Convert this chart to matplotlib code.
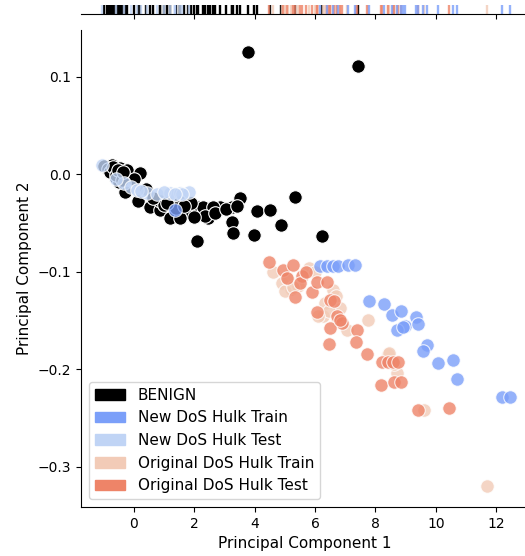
import matplotlib
matplotlib.use("Agg")
import matplotlib.pyplot as plt
import matplotlib.patches as mpatches
import numpy as np

# PCA projections per class (PC1, PC2)
benign_x = [3.77, 7.42, -0.73, -0.46, -0.23, 0.20, -0.63, -0.30, 0.13, 0.53, 0.86, 1.19,
            1.79, 2.12, 2.52, 2.85, 3.25, 3.51, 3.25, 3.28, 2.09, 4.07, 4.50, 3.97, 4.87,
            5.33, 6.23, 2.45, 1.52, 1.52, 0.86, 2.28, 2.62, 2.35, 0.00, 0.40, 1.00, 1.40,
            1.90, 2.00, -0.90, -0.50, -1.00, -0.85, -0.78, -0.68, -0.58, -0.52, -0.40,
            -0.36, 0.62, 1.10, 1.65, 2.70, 3.05, 3.40]
benign_y = [0.125, 0.111, 0.009, 0.006, 0.004, 0.001, -0.003, -0.018, -0.027, -0.034,
            -0.037, -0.045, -0.039, -0.034, -0.035, -0.034, -0.034, -0.024, -0.049, -0.060,
            -0.069, -0.038, -0.037, -0.062, -0.052, -0.023, -0.063, -0.045, -0.045, -0.029,
            -0.027, -0.034, -0.034, -0.043, -0.005, -0.015, -0.032, -0.035, -0.030, -0.044,
            0.006, -0.008, 0.008, 0.005, 0.002, 0.007, -0.001, 0.004, -0.006, 0.002,
            -0.024, -0.030, -0.033, -0.040, -0.036, -0.033]

new_train_x = [1.36, 6.16, 6.39, 6.59, 6.75, 7.09, 7.32, 7.78, 8.28, 8.54, 8.84, 9.34,
               8.97, 8.70, 9.40, 9.70, 9.57, 10.07, 10.56, 10.70, 12.19, 12.45, 8.90]
new_train_y = [-0.037, -0.094, -0.094, -0.094, -0.094, -0.093, -0.093, -0.130, -0.133,
               -0.144, -0.140, -0.147, -0.156, -0.160, -0.154, -0.175, -0.181, -0.194,
               -0.191, -0.210, -0.229, -0.229, -0.157]

new_test_x = [-1.06, -0.33, -0.10, 0.43, 0.76, 1.19, 1.52, 1.82, 0.10, -0.60, 1.00, 1.60,
              0.25, 1.35]
new_test_y = [0.009, -0.009, -0.013, -0.019, -0.020, -0.019, -0.019, -0.018, -0.016,
              -0.005, -0.018, -0.020, -0.017, -0.020]

orig_train_x = [5.79, 4.90, 5.20, 6.59, 6.32, 6.82, 6.26, 6.72, 7.05, 7.75, 8.41, 8.44,
                8.70, 9.60, 11.69, 4.60, 5.00, 6.00, 6.70, 5.45, 5.10, 6.45, 8.60, 6.09,
                5.26]
orig_train_y = [-0.096, -0.112, -0.118, -0.119, -0.132, -0.137, -0.146, -0.148, -0.160,
                -0.150, -0.184, -0.183, -0.204, -0.242, -0.320, -0.100, -0.120, -0.100,
                -0.125, -0.115, -0.108, -0.140, -0.195, -0.146, -0.116]

orig_test_x = [4.47, 4.93, 5.06, 5.26, 5.56, 5.50, 5.33, 5.89, 6.06, 6.39, 6.49, 6.62,
               6.06, 6.72, 6.89, 6.49, 7.38, 7.35, 6.46, 7.72, 8.21, 8.41, 8.57, 8.74,
               8.18, 8.61, 8.84, 9.40, 10.43, 6.82, 5.70]
orig_test_y = [-0.090, -0.098, -0.106, -0.093, -0.104, -0.112, -0.126, -0.121, -0.111,
               -0.111, -0.129, -0.130, -0.141, -0.145, -0.153, -0.158, -0.160, -0.172,
               -0.174, -0.185, -0.193, -0.193, -0.193, -0.193, -0.216, -0.213, -0.213,
               -0.242, -0.240, -0.150, -0.100]

labels = ['BENIGN', 'New DoS Hulk Train', 'New DoS Hulk Test',
          'Original DoS Hulk Train', 'Original DoS Hulk Test']
cmap = plt.get_cmap('coolwarm')
colors = {'BENIGN': 'black',
          'New DoS Hulk Train': cmap(0.2),
          'New DoS Hulk Test': cmap(0.4),
          'Original DoS Hulk Train': cmap(0.6),
          'Original DoS Hulk Test': cmap(0.8)}

# draw order: benign first, blue classes on top
series = [('BENIGN', benign_x, benign_y, 1.0),
          ('Original DoS Hulk Train', orig_train_x, orig_train_y, 0.8),
          ('Original DoS Hulk Test', orig_test_x, orig_test_y, 0.8),
          ('New DoS Hulk Train', new_train_x, new_train_y, 0.8),
          ('New DoS Hulk Test', new_test_x, new_test_y, 0.8)]

W, H = 525, 556
fig = plt.figure(figsize=(W / 100, H / 100), dpi=100)
ax = fig.add_axes([81 / W, 49 / H, (528 - 81) / W, 477 / H])
ax_top = fig.add_axes([81 / W, 542 / H, (528 - 81) / W, 14 / H], sharex=ax)

for name, xs, ys, a in series:
    ax.scatter(xs, ys, s=95, color=colors[name], alpha=a,
               edgecolor='white', linewidth=0.8, zorder=2)
    ax_top.vlines(xs, 0, 0.65, colors=[colors[name]], alpha=a, linewidth=1.7,
                  transform=ax_top.get_xaxis_transform())

ax.set_xlim(-1.75, 13.05)
ax.set_ylim(-0.3415, 0.148)
ax.set_xticks([0, 2, 4, 6, 8, 10, 12])
ax.set_yticks([-0.3, -0.2, -0.1, 0.0, 0.1])
ax.spines['top'].set_visible(False)
ax.spines['right'].set_visible(False)
ax.set_xlabel('Principal Component 1', fontsize=11)
ax.set_ylabel('Principal Component 2', fontsize=11)

ax_top.set_ylim(0, 1)
for side in ['top', 'right', 'left']:
    ax_top.spines[side].set_visible(False)
ax_top.tick_params(axis='x', labelbottom=False)
ax_top.tick_params(axis='y', left=False, labelleft=False)

handles = [mpatches.Patch(color=colors[n], label=n) for n in labels]
ax.legend(handles=handles, loc='lower left', fontsize=11)

fig.savefig('out.png', dpi=100)
